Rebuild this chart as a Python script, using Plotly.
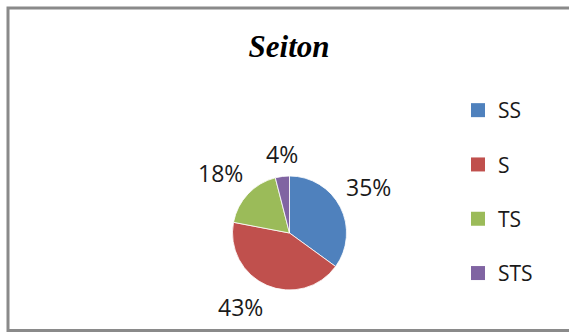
import math
import plotly.graph_objects as go

# ---- data ----
categories = ["SS", "S", "TS", "STS"]
values = [35, 43, 18, 4]
colors = ["#4F81BD", "#C0504D", "#9BBB59", "#8064A2"]
title_text = "Seiton"

W, H = 569, 332
cx, cy, R = 289.5, 233.0, 57.0  # pie centre / radius in px

fig = go.Figure()
fig.add_trace(go.Pie(
    labels=categories, values=values, sort=False, direction="clockwise",
    rotation=0, marker=dict(colors=colors, line=dict(color="#FFFFFF", width=0.8)),
    textinfo="none", hoverinfo="label+percent", showlegend=False,
    domain=dict(x=[(cx - R) / W, (cx + R) / W], y=[(H - cy - R) / H, (H - cy + R) / H]),
))

# legend via marker-only traces (one group each for spacing)
for cat, col in zip(categories, colors):
    fig.add_trace(go.Scatter(
        x=[None], y=[None], mode="markers", name=cat, legendgroup=cat,
        marker=dict(symbol="square", size=14, color=col),
    ))

# percentage labels placed outside each slice, computed from the values
total = sum(values)
cum = 0.0
gap = 4.0
for v in values:
    mid = (cum + v / 2) / total * 2 * math.pi
    cum += v
    ux, uy = math.sin(mid), -math.cos(mid)  # screen coords (y down)
    px, py = cx + (R + gap) * ux, cy + (R + gap) * uy
    xa = "left" if ux > 0.3 else ("right" if ux < -0.3 else "center")
    ya = "bottom" if uy < -0.3 else ("top" if uy > 0.3 else "middle")
    fig.add_annotation(
        x=px / W, y=(H - py) / H, xref="paper", yref="paper",
        text=f"{round(v / total * 100)}%", showarrow=False,
        xanchor=xa, yanchor=ya,
        font=dict(family="Open Sans", size=23, color="#1a1a1a"),
    )

fig.add_shape(type="rect", xref="paper", yref="paper",
              x0=8 / W, x1=1.05, y0=(H - 330.5) / H, y1=(H - 8) / H,
              line=dict(color="#8A8A8A", width=3), fillcolor="rgba(0,0,0,0)")

fig.update_layout(
    width=W, height=H, margin=dict(l=0, r=0, t=0, b=0),
    paper_bgcolor="#FFFFFF", plot_bgcolor="#FFFFFF",
    title=dict(text="<b><i>Seiton</i></b>", x=0.508, xanchor="center",
               y=(H - 46) / H, yanchor="middle",
               font=dict(family="Liberation Serif", size=31, color="#000000")),
    xaxis=dict(visible=False), yaxis=dict(visible=False),
    legend=dict(x=458 / W, xanchor="left", y=(H - 90) / H, yanchor="top",
                tracegroupgap=24, font=dict(family="Open Sans", size=21, color="#1a1a1a"),
                bgcolor="rgba(0,0,0,0)", itemclick=False),
    showlegend=True,
)

fig.write_html("out.html")
